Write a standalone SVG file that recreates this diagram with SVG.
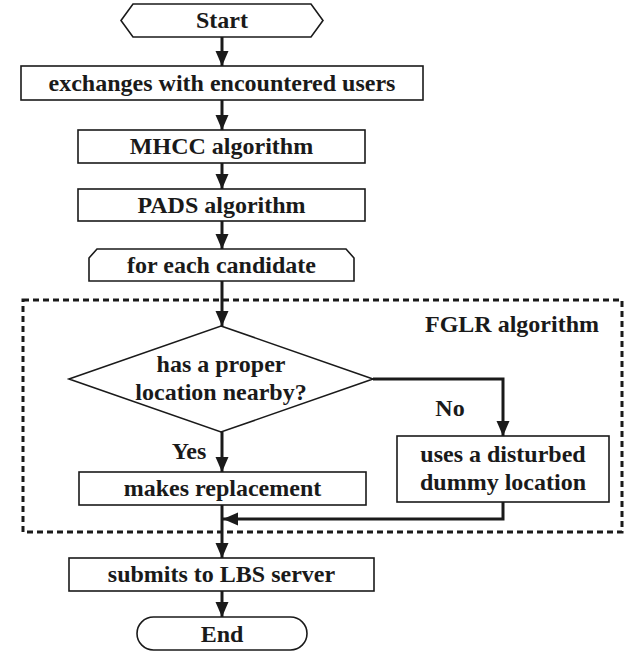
<svg xmlns="http://www.w3.org/2000/svg" width="641" height="653" viewBox="0 0 641 653">
<defs>
<marker id="ah" markerUnits="userSpaceOnUse" markerWidth="16" markerHeight="14" refX="15" refY="6.5" orient="auto">
<path d="M0,0 L15,6.5 L0,13 z" fill="#1a1a1a"/>
</marker>
</defs>
<style>
.s{fill:#fff;stroke:#1a1a1a;stroke-width:1.6}
.t{font-family:"Liberation Serif","Times New Roman",serif;font-weight:bold;font-size:24px;fill:#1a1a1a;text-anchor:middle}
.c{fill:none;stroke:#1a1a1a;stroke-width:3}
.d{fill:none;stroke:#1a1a1a;stroke-width:3;stroke-dasharray:6 4}
</style>
<rect width="641" height="653" fill="#fff"/>
<g id="fglr">
<rect class="d" x="23" y="300" width="599" height="232"/>
<text class="t" x="512" y="332">FGLR algorithm</text>
</g>
<g id="connectors">
<line class="c" x1="222" y1="37" x2="222" y2="66" marker-end="url(#ah)"/>
<line class="c" x1="222" y1="100" x2="222" y2="130" marker-end="url(#ah)"/>
<line class="c" x1="222" y1="163" x2="222" y2="189" marker-end="url(#ah)"/>
<line class="c" x1="222" y1="221" x2="222" y2="249" marker-end="url(#ah)"/>
<line class="c" x1="222" y1="281" x2="222" y2="326" marker-end="url(#ah)"/>
<line class="c" x1="222" y1="432" x2="222" y2="472" marker-end="url(#ah)"/>
<polyline class="c" points="373,379 503,379 503,436" marker-end="url(#ah)"/>
<polyline class="c" points="503,502 503,519 223,519" marker-end="url(#ah)"/>
<line class="c" x1="222" y1="505" x2="222" y2="558" marker-end="url(#ah)"/>
<line class="c" x1="222" y1="591" x2="222" y2="617" marker-end="url(#ah)"/>
<text class="t" x="189" y="459">Yes</text>
<text class="t" x="450" y="416">No</text>
</g>
<g id="start">
<polygon class="s" points="121,20.5 133,4 311,4 323,20.5 311,37 133,37"/>
<text class="t" x="222" y="28">Start</text>
</g>
<g id="exchanges">
<rect class="s" x="21" y="66" width="402" height="34"/>
<text class="t" x="222" y="91">exchanges with encountered users</text>
</g>
<g id="mhcc">
<rect class="s" x="78" y="130" width="287" height="33"/>
<text class="t" x="221.5" y="154">MHCC algorithm</text>
</g>
<g id="pads">
<rect class="s" x="78" y="189" width="287" height="32"/>
<text class="t" x="221.5" y="213">PADS algorithm</text>
</g>
<g id="foreach">
<polygon class="s" points="89,258 97,249 346,249 354,258 354,281 89,281"/>
<text class="t" x="221.5" y="273">for each candidate</text>
</g>
<g id="decision">
<polygon class="s" points="221,326 373,379 221,432 69,379"/>
<text class="t" x="221" y="372">has a proper</text>
<text class="t" x="221" y="400">location nearby?</text>
</g>
<g id="replace">
<rect class="s" x="79" y="472" width="287" height="33"/>
<text class="t" x="222.5" y="496">makes replacement</text>
</g>
<g id="dummy">
<rect class="s" x="397" y="436" width="212" height="66"/>
<text class="t" x="503" y="462">uses a disturbed</text>
<text class="t" x="503" y="490">dummy location</text>
</g>
<g id="submit">
<rect class="s" x="69" y="558" width="305" height="33"/>
<text class="t" x="221.5" y="582">submits to LBS server</text>
</g>
<g id="end">
<rect class="s" x="137" y="617" width="170" height="33" rx="16.5" ry="16.5"/>
<text class="t" x="222" y="642">End</text>
</g>
</svg>
